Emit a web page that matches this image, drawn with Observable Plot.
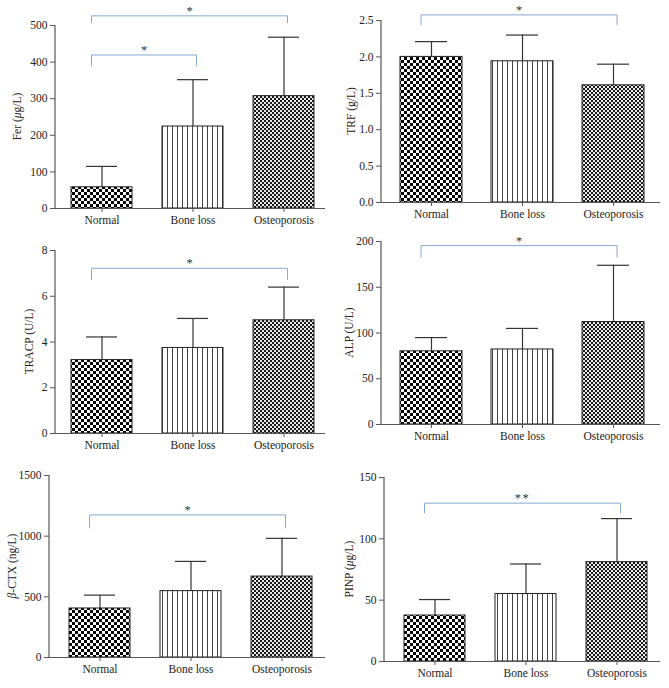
<!DOCTYPE html>
<html><head><meta charset="utf-8">
<script src="https://cdn.jsdelivr.net/npm/d3@7"></script>
<script src="https://cdn.jsdelivr.net/npm/@observablehq/plot@0.6"></script>
<style>
body{margin:0;background:#fff}
#wrap{position:relative;width:669px;height:688px;overflow:hidden;background:#fff}
.panel{position:absolute}
</style></head><body>
<svg width="0" height="0" style="position:absolute"><defs>
<pattern id="pNormal" patternUnits="userSpaceOnUse" width="6" height="6"><rect width="6" height="6" fill="#fff"/><rect width="3" height="3" fill="#000"/><rect x="3" y="3" width="3" height="3" fill="#000"/></pattern>
<pattern id="pBone" patternUnits="userSpaceOnUse" width="5" height="5"><rect width="5" height="5" fill="#fff"/><rect x="2" width="1" height="5" fill="#444"/></pattern>
<pattern id="pOst" patternUnits="userSpaceOnUse" width="4" height="4"><rect width="4" height="4" fill="#e8e8e8"/><rect width="2" height="2" fill="#1a1a1a"/><rect x="2" y="2" width="2" height="2" fill="#1a1a1a"/></pattern>
</defs></svg>
<div id="wrap"></div>
<script>
// ---- data ----
const categories = ["Normal", "Bone loss", "Osteoporosis"];

const ferMean = [58, 224, 307];
const ferUpper = [115, 352, 468];
const ferTicks = [0, 100, 200, 300, 400, 500];

const trfMean = [2.0, 1.94, 1.61];
const trfUpper = [2.21, 2.30, 1.90];
const trfTicks = [0, 0.5, 1.0, 1.5, 2.0, 2.5];

const tracpMean = [3.21, 3.74, 4.95];
const tracpUpper = [4.22, 5.03, 6.40];
const tracpTicks = [0, 2, 4, 6, 8];

const alpMean = [80, 82, 112];
const alpUpper = [95, 105, 174];
const alpTicks = [0, 50, 100, 150, 200];

const ctxMean = [404, 547, 667];
const ctxUpper = [514, 792, 982];
const ctxTicks = [0, 500, 1000, 1500];

const pinpMean = [37.5, 55, 81];
const pinpUpper = [50.5, 79.5, 116.5];
const pinpTicks = [0, 50, 100, 150];

// significance brackets: [from, to, lower end, upper level, label]
const ferBrackets = [["Normal", "Bone loss", 388, 418, "*"], ["Normal", "Osteoporosis", 505, 525, "*"]];
const trfBrackets = [["Normal", "Osteoporosis", 2.43, 2.57, "*"]];
const tracpBrackets = [["Normal", "Osteoporosis", 6.69, 7.2, "*"]];
const alpBrackets = [["Normal", "Osteoporosis", 182, 195, "*"]];
const ctxBrackets = [["Normal", "Osteoporosis", 1061, 1171, "*"]];
const pinpBrackets = [["Normal", "Osteoporosis", 120.5, 128.7, "**"]];

// axis titles: [text, italic]
const ferLabel = [["Fer (", false], ["\u03bc", true], ["g/L)", false]];
const trfLabel = [["TRF (g/L)", false]];
const tracpLabel = [["TRACP (U/L)", false]];
const alpLabel = [["ALP (U/L)", false]];
const ctxLabel = [["\u03b2", true], ["-CTX (ng/L)", false]];
const pinpLabel = [["PINP (", false], ["\u03bc", true], ["g/L)", false]];

// ---- layout / style ----
const patterns = {"Normal": "url(#pNormal)", "Bone loss": "url(#pBone)", "Osteoporosis": "url(#pOst)"};
const FONT = "'Liberation Serif', 'DejaVu Serif', serif";
const FS = 11.5;

function panel(cfg, mean, upper, ticks, fmt, brackets, label) {
  const rows = categories.map((c, i) => ({cat: c, mean: mean[i], upper: upper[i]}));
  const ymax = ticks[ticks.length - 1];
  const bars = categories.map(c => Plot.barY(rows.filter(d => d.cat === c), {x: "cat", y: "mean", fill: patterns[c], stroke: "#222", strokeWidth: 1}));
  const yLine = (index, scales, values, dim) => {
    const l = d3.create("svg:line")
      .attr("x1", dim.marginLeft).attr("x2", dim.marginLeft)
      .attr("y1", scales.y(0)).attr("y2", scales.y(ymax))
      .attr("stroke", "#555").attr("stroke-width", 1.2);
    return l.node();
  };
  const bracketMark = (index, scales, values, dim) => {
    const g = d3.create("svg:g");
    const cx = c => scales.x(c) + scales.x.bandwidth() / 2;
    for (const [a, b, lo, hi, s] of brackets) {
      const x1 = cx(a) - 10, x2 = cx(b) + 4;
      const yl = scales.y(lo), yh = scales.y(hi);
      g.append("path").attr("d", `M${x1},${yl}V${yh}H${x2}V${yl}`)
        .attr("fill", "none").attr("stroke", "#86aad2").attr("stroke-width", 1);
      g.append("text").attr("x", (x1 + x2) / 2).attr("y", yh - 1)
        .attr("text-anchor", "middle").attr("font-size", 12.5).attr("fill", "#333")
        .attr("letter-spacing", s.length > 1 ? 1.5 : 0).text(s);
    }
    return g.node();
  };
  const labelMark = (index, scales, values, dim) => {
    const cy = (scales.y(0) + scales.y(ymax)) / 2;
    const t = d3.create("svg:text")
      .attr("transform", `translate(${cfg.labelX},${cy}) rotate(-90)`)
      .attr("text-anchor", "middle").attr("dominant-baseline", "middle")
      .attr("font-size", FS).attr("fill", "#222");
    for (const [txt, it] of label) t.append("tspan").attr("font-style", it ? "italic" : "normal").text(txt);
    return t.node();
  };
  const p = Plot.plot({
    width: cfg.w, height: cfg.h,
    marginLeft: cfg.mL, marginRight: cfg.mR, marginTop: cfg.mT, marginBottom: cfg.mB,
    x: {domain: categories, paddingInner: cfg.pi, paddingOuter: cfg.po, align: cfg.align, axis: null},
    y: {domain: [0, ymax], axis: null},
    style: {fontFamily: FONT, fontSize: FS + "px", color: "#222", background: "transparent", overflow: "visible"},
    marks: [
      Plot.ruleX(rows, {x: "cat", y1: "mean", y2: "upper", stroke: "#333", strokeWidth: 1.2}),
      Plot.tickY(rows, {x: "cat", y: "upper", insetLeft: 15, insetRight: 15, stroke: "#333", strokeWidth: 1.2}),
      ...bars,
      Plot.ruleY([0], {stroke: "#555", strokeWidth: 1.2}),
      yLine,
      Plot.axisY({ticks: ticks, tickFormat: fmt, tickSize: 5, tickPadding: 3, label: null, stroke: "#555", fill: "#222"}),
      Plot.axisX({tickSize: 4, tickPadding: 3, label: null, stroke: "#555", fill: "#222"}),
      bracketMark,
      labelMark
    ]
  });
  p.classList.add("panel");
  p.style.left = cfg.left + "px";
  p.style.top = cfg.top + "px";
  document.getElementById("wrap").appendChild(p);
}

const intFmt = d3.format("d");
panel({left: 0, top: 0, w: 334, h: 230, mL: 55, mR: 9, mT: 25, mB: 22, pi: 0.33, po: 0.14, align: 0.58, labelX: 18},
  ferMean, ferUpper, ferTicks, intFmt, ferBrackets, ferLabel);
panel({left: 335, top: 0, w: 334, h: 230, mL: 46, mR: 9, mT: 20, mB: 28, pi: 0.32, po: 0.19, align: 0.54, labelX: 17},
  trfMean, trfUpper, trfTicks, d3.format(".1f"), trfBrackets, trfLabel);
panel({left: 0, top: 230, w: 334, h: 230, mL: 55, mR: 9, mT: 20, mB: 27, pi: 0.33, po: 0.14, align: 0.58, labelX: 30},
  tracpMean, tracpUpper, tracpTicks, intFmt, tracpBrackets, tracpLabel);
panel({left: 335, top: 230, w: 334, h: 230, mL: 46, mR: 9, mT: 11, mB: 36, pi: 0.32, po: 0.19, align: 0.54, labelX: 15},
  alpMean, alpUpper, alpTicks, intFmt, alpBrackets, alpLabel);
panel({left: 0, top: 460, w: 334, h: 228, mL: 49, mR: 9, mT: 15, mB: 31, pi: 0.33, po: 0.175, align: 0.62, labelX: 13},
  ctxMean, ctxUpper, ctxTicks, intFmt, ctxBrackets, ctxLabel);
panel({left: 335, top: 460, w: 334, h: 228, mL: 49, mR: 9, mT: 17, mB: 27, pi: 0.33, po: 0.175, align: 0.62, labelX: 15},
  pinpMean, pinpUpper, pinpTicks, intFmt, pinpBrackets, pinpLabel);
</script>
</body></html>
